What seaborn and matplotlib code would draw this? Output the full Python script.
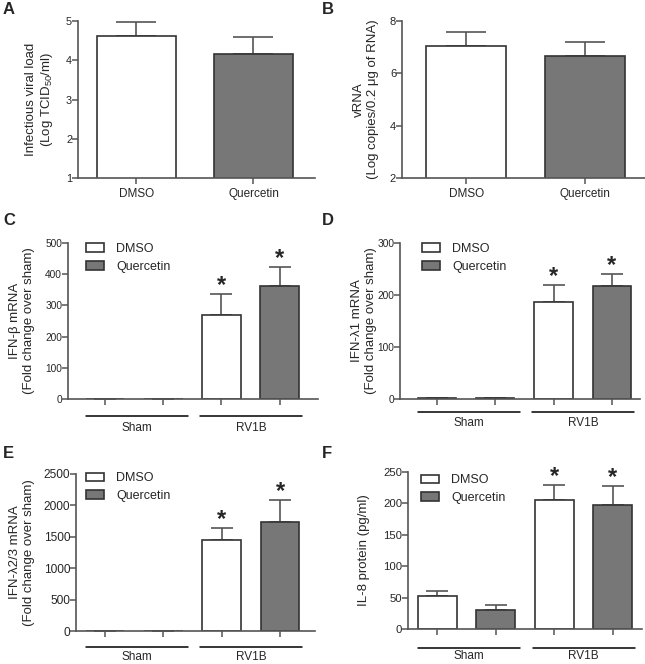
import numpy as np
import pandas as pd
import seaborn as sns
import matplotlib.pyplot as plt

# values (mean and upper SEM)
treatments = ["DMSO", "Quercetin"]
groups = ["Sham", "RV1B"]
conditions = ["Sham DMSO", "Sham Quercetin", "RV1B DMSO", "RV1B Quercetin"]

viral_load = [4.63, 4.15]
viral_load_sem = [0.35, 0.43]
vrna = [7.03, 6.65]
vrna_sem = [0.55, 0.55]

ifnb = [1.5, 1.5, 270, 362]
ifnb_sem = [0, 0, 66, 61]
ifnl1 = [1, 1, 187, 218]
ifnl1_sem = [0, 0, 32, 22]
ifnl23 = [1, 1, 1455, 1740]
ifnl23_sem = [0, 0, 187, 350]
il8 = [53, 31, 205, 197]
il8_sem = [7, 8, 24, 31]
significant = [False, False, True, True]
group_spans = [(-0.33, 1.42), (1.63, 3.38)]

sns.set_style("ticks")
plt.rcParams['font.family'] = ['Liberation Sans', 'DejaVu Sans']
plt.rcParams['mathtext.fontset'] = 'custom'
plt.rcParams['mathtext.rm'] = 'Liberation Sans'
plt.rcParams['mathtext.it'] = 'Liberation Sans:italic'

W, H = 645, 664
fig = plt.figure(figsize=(W / 100, H / 100), dpi=100)

colors = {"DMSO": "#ffffff", "Quercetin": "#777777"}
spine_c = "#555555"
edge_c = "#333333"


def make_ax(l, t, r, b, ysize):
    ax = fig.add_axes([l / W, 1 - b / H, (r - l) / W, (b - t) / H])
    for s in ["top", "right"]:
        ax.spines[s].set_visible(False)
    for s in ["left", "bottom"]:
        ax.spines[s].set_color(spine_c)
        ax.spines[s].set_linewidth(1.2)
    ax.tick_params(length=4, width=1.1, color=spine_c)
    ax.tick_params(axis="y", labelsize=ysize, pad=0.2)
    ax.tick_params(axis="x", labelsize=8.5, pad=3.5)
    return ax


def two_bar(box, vals, sems, ylim, yticks, ylabel, xlim, label_x, ysize):
    ax = make_ax(*box, ysize)
    d = pd.DataFrame({"treatment": treatments, "value": vals})
    sns.barplot(data=d, x="treatment", y="value", hue="treatment", palette=colors,
                width=0.675, edgecolor=edge_c, linewidth=1.2, errorbar=None,
                legend=False, ax=ax)
    x = np.arange(len(vals))
    ax.errorbar(x, vals, yerr=[np.zeros(len(sems)), sems], fmt="none",
                ecolor=spine_c, elinewidth=1.2, capsize=14.5, capthick=1.2, zorder=0)
    ax.set_ylim(*ylim)
    ax.set_yticks(yticks)
    ax.set_xlim(*xlim)
    ax.set_xlabel("")
    ax.set_ylabel(ylabel, fontsize=9.5)
    ax.yaxis.set_label_coords(label_x, 0.5)
    return ax


def four_bar(box, vals, sems, ylim, yticks, ylabel, xlim, label_x, ysize,
             leg_xy, line_px, text_px):
    ax = make_ax(*box, ysize)
    h = box[3] - box[1]
    d = pd.DataFrame({"condition": conditions, "treatment": treatments * 2, "value": vals})
    sns.barplot(data=d, x="condition", y="value", hue="treatment", palette=colors,
                order=conditions, dodge=False, width=0.66, edgecolor=edge_c,
                linewidth=1.2, errorbar=None, ax=ax)
    x = np.arange(len(vals))
    ax.errorbar(x, vals, yerr=[np.zeros(len(sems)), sems], fmt="none",
                ecolor=spine_c, elinewidth=1.2, capsize=7.8, capthick=1.2, zorder=0)
    for xi, v, s, sig in zip(x, vals, sems, significant):
        if sig:
            ax.annotate("*", xy=(xi, v + s), xytext=(0, -2), textcoords="offset points",
                        ha="center", va="bottom", fontsize=17, fontweight="bold")
    ax.set_ylim(*ylim)
    ax.set_yticks(yticks)
    ax.set_xlim(*xlim)
    ax.set_xlabel("")
    ax.tick_params(axis="x", labelbottom=False)
    ax.set_ylabel(ylabel, fontsize=9.5)
    ax.yaxis.set_label_coords(label_x, 0.5)
    handles, labels = ax.get_legend_handles_labels()
    ax.legend(handles, labels, loc="upper left", bbox_to_anchor=leg_xy, frameon=False,
              fontsize=9, handlelength=1.45, handleheight=0.7, handletextpad=1.0,
              labelspacing=0.45, borderpad=0, borderaxespad=0)
    tr = ax.get_xaxis_transform()
    for g, (x0, x1) in zip(groups, group_spans):
        ax.plot([x0, x1], [-line_px / h] * 2, color="black", lw=1.1,
                transform=tr, clip_on=False)
        ax.text((x0 + x1) / 2, -text_px / h, g, transform=tr, ha="center",
                va="center", fontsize=8.5)
    return ax


two_bar((78, 21, 315, 178), viral_load, viral_load_sem, (1, 5), [1, 2, 3, 4, 5],
        "Infectious viral load\n(Log TCID$_{\\mathit{50}}$/ml)", (-0.5, 1.526), -0.097, 7.8)
two_bar((402, 21, 645, 178), vrna, vrna_sem, (2, 8), [2, 4, 6, 8],
        "vRNA\n(Log copies/0.2 \u03bcg of RNA)", (-0.544, 1.506), -0.095, 8.0)

four_bar((68, 243, 318, 399), ifnb, ifnb_sem, (0, 500), range(0, 501, 100),
         "IFN-\u03b2 mRNA\n(Fold change over sham)", (-0.64, 3.66), -0.132, 7.3,
         (0.07, 1.0), 17, 29)
four_bar((400, 243, 640, 399), ifnl1, ifnl1_sem, (0, 300), range(0, 301, 100),
         "IFN-\u03bb1 mRNA\n(Fold change over sham)", (-0.63, 3.48), -0.095, 7.3,
         (0.09, 1.0), 13, 24)
four_bar((76, 474, 315, 631), ifnl23, ifnl23_sem, (0, 2500), range(0, 2501, 500),
         "IFN-\u03bb2/3 mRNA\n(Fold change over sham)", (-0.5, 3.6), -0.172, 8.6,
         (0.04, 1.01), 16, 26)
four_bar((408, 472, 642, 629), il8, il8_sem, (0, 250), range(0, 251, 50),
         "IL-8 protein (pg/ml)", (-0.5, 3.5), -0.162, 8.2,
         (0.055, 0.985), 19, 27)

for letter, px, py in [("A", 3, 2), ("B", 322, 2), ("C", 3, 213), ("D", 322, 213),
                       ("E", 3, 446), ("F", 322, 446)]:
    fig.text(px / W, 1 - py / H, letter, ha="left", va="top", fontsize=12, fontweight="bold")

fig.savefig("out.png", dpi=100)
